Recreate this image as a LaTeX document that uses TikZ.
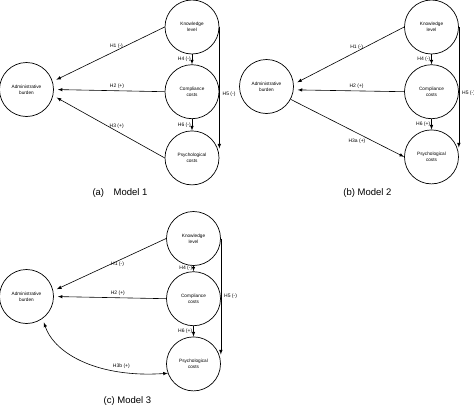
\documentclass[tikz,border=0pt]{standalone}
\usepackage{fontspec}
\setmainfont{Liberation Sans}
\usetikzlibrary{arrows, positioning}

\tikzset{
  construct/.style={circle, draw, line width=0.7pt, minimum size=54pt, inner sep=0pt,
    align=center, font=\fontsize{4.7}{6}\selectfont},
  hyp/.style={-latex, line width=0.6pt},
  hlabel/.style={font=\fontsize{5}{6}\selectfont, inner sep=1pt},
  caption/.style={font=\fontsize{9.5}{11}\selectfont}
}

\begin{document}
\begin{tikzpicture}[x=1pt, y=-1pt]
\useasboundingbox (0,0) rectangle (474,407);

% (a) Model 1
\node[construct] (ab1) at (26.5,89.5) {Administrative\\burden};
\node[construct] (kl1) at (192,27) {Knowledge\\level};
\node[construct, below=10pt of kl1] (cc1) {Compliance\\costs};
\node[construct, below=11.5pt of cc1] (pc1) {Psychological\\costs};
\draw[hyp, shorten >=4pt] (kl1.west) -- node[hlabel, pos=.43, above=1pt] {H1 (-)} (ab1.17);
\draw[hyp, shorten >=4pt] (cc1.west) -- node[hlabel, pos=.43, above=1pt] {H2 (+)} (ab1.east);
\draw[hyp, shorten >=4pt] (pc1.west) -- node[hlabel, pos=.43, above=1pt] {H3 (+)} (ab1.-13);
\draw[hyp] (kl1) -- node[hlabel, left] {H4 (-)} (cc1);
\draw[hyp] (cc1) -- node[hlabel, left] {H6 (-)} (pc1);
\draw[hyp] (kl1.east) -- node[hlabel, pos=.55, right=2pt] {H5 (-)} (kl1.east |- pc1.20);
\node[caption] (capa) at (120,193) {(a)\quad Model 1};

% (b) Model 2
\node[construct] (ab2) at (266.5,86.5) {Administrative\\burden};
\node[construct] (kl2) at (431.5,27) {Knowledge\\level};
\node[construct, below=10pt of kl2] (cc2) {Compliance\\costs};
\node[construct, below=10.5pt of cc2] (pc2) {Psychological\\costs};
\draw[hyp, shorten >=4pt] (kl2.west) -- node[hlabel, pos=.43, above=1pt] {H1 (-)} (ab2.5);
\draw[hyp, shorten >=4pt] (cc2.west) -- node[hlabel, pos=.43, above=1pt] {H2 (+)} (ab2.-7);
\draw[hyp] (ab2.-28) -- node[hlabel, pos=.67, below left] {H3a (+)} (pc2.west);
\draw[hyp] (kl2) -- node[hlabel, left] {H4 (-)} (cc2);
\draw[hyp] (cc2) -- node[hlabel, left] {H6 (+)} (pc2);
\draw[hyp] (kl2.east) -- node[hlabel, pos=.55, right=2pt] {H5 (-)} (kl2.east |- pc2.20);
\node[caption] (capb) at (367.5,193) {(b) Model 2};

% (c) Model 3
\node[construct] (ab3) at (26.5,296.5) {Administrative\\burden};
\node[construct] (kl3) at (193.5,238.5) {Knowledge\\level};
\node[construct, below=5.5pt of kl3] (cc3) {Compliance\\costs};
\node[construct, below=10.5pt of cc3] (pc3) {Psychological\\costs};
\draw[hyp, shorten >=4pt] (kl3.west) -- node[hlabel, pos=.43, below] {H1 (-)} (ab3.12);
\draw[hyp, shorten >=4pt] (cc3.west) -- node[hlabel, pos=.43, above=1pt] {H2 (+)} (ab3.east);
\draw[hyp, latex-latex, shorten <=4pt] (ab3.-54) .. controls (55,355) and (100,378) .. node[hlabel, pos=.75, above=2pt] {H3b (+)} (pc3.200);
\draw[hyp] (kl3) -- node[hlabel, left] {H4 (-)} (cc3);
\draw[hyp] (cc3) -- node[hlabel, left] {H6 (+)} (pc3);
\draw[hyp] (kl3.east) -- node[hlabel, pos=.5, right=2pt] {H5 (-)} (kl3.east |- pc3.20);
\node[caption] (capc) at (127.5,401) {(c) Model 3};
\end{tikzpicture}
\end{document}
